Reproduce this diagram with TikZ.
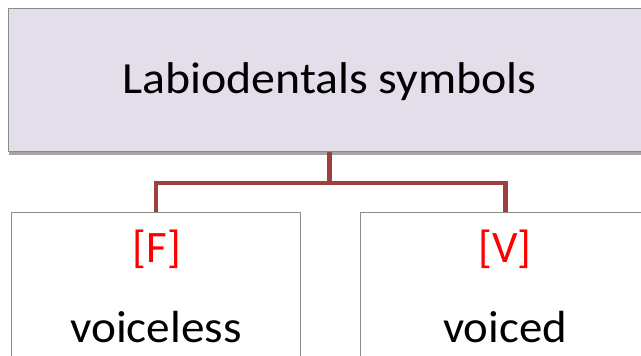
\documentclass[tikz,border=0pt]{standalone}
\usepackage{fontspec}
\setmainfont{Carlito}
\usetikzlibrary{shadows,calc}
\definecolor{topfill}{RGB}{227,222,234}
\definecolor{boxline}{RGB}{140,140,140}
\definecolor{conn}{RGB}{158,64,64}
\definecolor{symred}{RGB}{255,0,0}
\tikzset{
  x=1pt,y=1pt,
  boxstyle/.style={draw=boxline,line width=1.2pt,inner sep=0pt,
    drop shadow={shadow xshift=0pt,shadow yshift=-3pt,opacity=0.35,fill=black}},
  conline/.style={draw=conn,line width=4.5pt},
  bigtext/.style={font=\fontsize{44.5}{50}\selectfont,anchor=base,inner sep=0pt},
  lowtext/.style={font=\fontsize{45}{52}\selectfont,anchor=base,inner sep=0pt},
}
\begin{document}
\begin{tikzpicture}
\useasboundingbox[fill=white] (0,0) rectangle (641,-356);
\node[boxstyle,fill=topfill,minimum width=642,minimum height=143,anchor=north west] (top) at (8,-8) {};
\node[boxstyle,fill=white,minimum width=289,minimum height=190,anchor=north west] (left) at (11,-212) {};
\node[boxstyle,fill=white,minimum width=290,minimum height=190,anchor=north west] (right) at (360,-212) {};
\coordinate (mid) at ($(top.south)+(0,-31)$);
\draw[conline] (top.south) -- (mid) -| (left.north);
\draw[conline] (mid) -| (right.north);
\node[bigtext] (title) at (329.5,-93) {\scalebox{1.075}[1]{Labiodentals symbols}};
\node[lowtext,text=symred] (fsym) at (157,-262) {[F]};
\node[lowtext] (fdesc) at (156,-342) {\scalebox{1.05}[1]{voiceless}};
\node[lowtext,text=symred] (vsym) at (505,-262) {[V]};
\node[lowtext] (vdesc) at (505,-342) {\scalebox{1.04}[1]{voiced}};
\end{tikzpicture}
\end{document}
